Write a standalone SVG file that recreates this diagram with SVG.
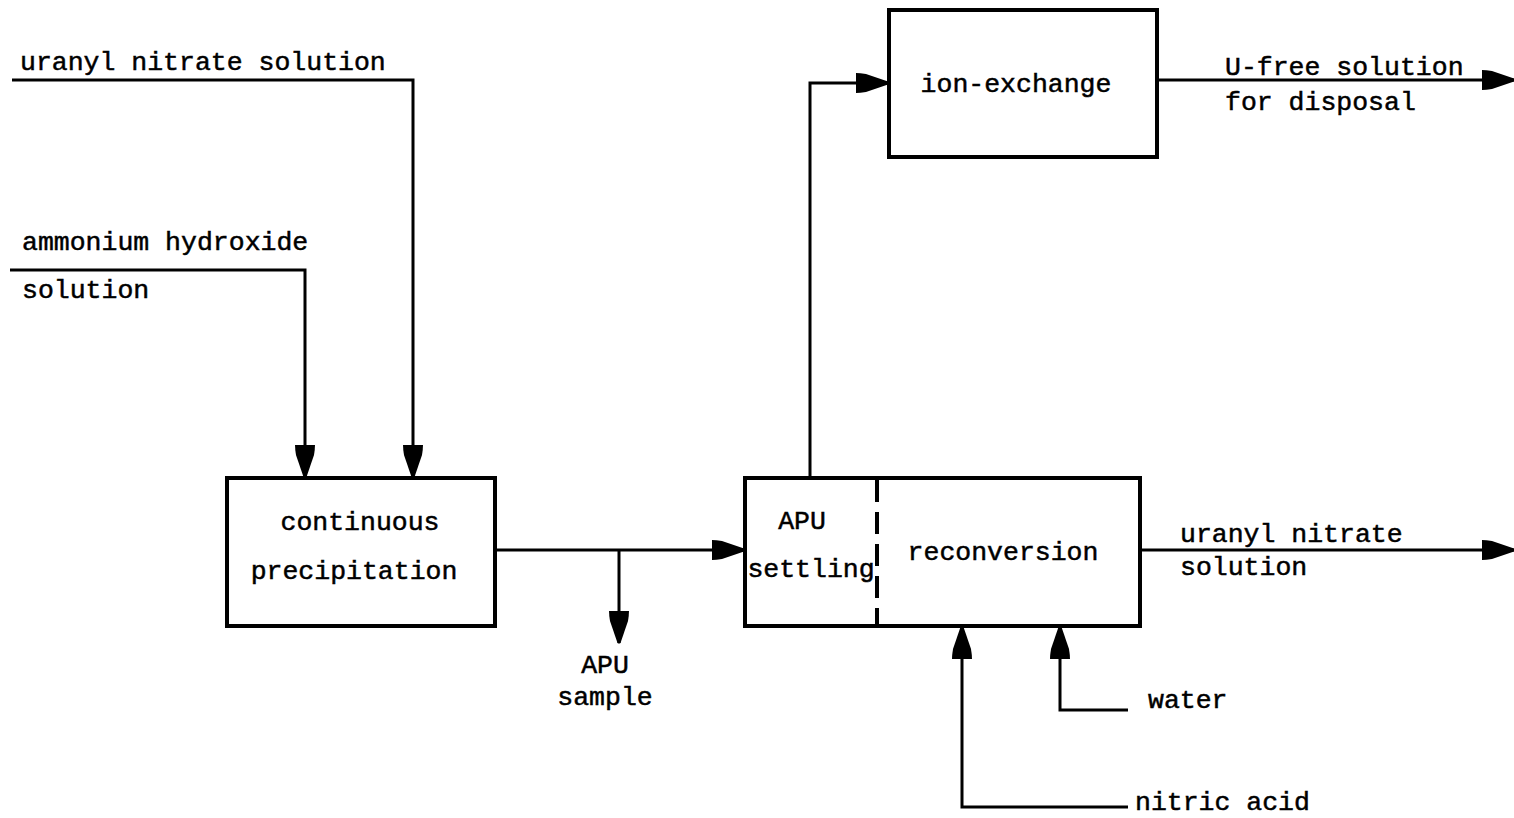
<svg xmlns="http://www.w3.org/2000/svg" width="1514" height="818" viewBox="0 0 1514 818">
<style>
.box{fill:#fff;stroke:#000;stroke-width:4}
.ln{fill:none;stroke:#000;stroke-width:3}
text{font-family:"Liberation Mono","DejaVu Sans Mono",monospace;font-size:26.5px;fill:#000;stroke:#000;stroke-width:0.5}
.c{text-anchor:middle}
</style>
<defs>
<marker id="ah" markerUnits="userSpaceOnUse" markerWidth="34" markerHeight="24" viewBox="0 -12 34 24" refX="32" refY="0" orient="auto">
<path d="M0,-10 Q4,-10 10,-9 L32,-1.5 Q33,0 32,1.5 L10,9 Q4,10 0,10 Z" fill="#000"/>
</marker>
</defs>
<g id="connectors">
<path class="ln" d="M12,80 H413 V477" marker-end="url(#ah)"/>
<path class="ln" d="M10,270 H305 V477" marker-end="url(#ah)"/>
<path class="ln" d="M495,550 H744" marker-end="url(#ah)"/>
<path class="ln" d="M619,550 V643" marker-end="url(#ah)"/>
<path class="ln" d="M810,478 V83 H888" marker-end="url(#ah)"/>
<path class="ln" d="M1157,80 H1514" marker-end="url(#ah)"/>
<path class="ln" d="M1140,550 H1514" marker-end="url(#ah)"/>
<path class="ln" d="M1128,710 H1060 V627" marker-end="url(#ah)"/>
<path class="ln" d="M1128,807 H962 V627" marker-end="url(#ah)"/>
</g>
<g id="labels">
<text x="20" y="70">uranyl nitrate solution</text>
<text x="22" y="250">ammonium hydroxide</text>
<text x="22" y="298">solution</text>
<text x="605" y="673" class="c">APU</text>
<text x="605" y="705" class="c">sample</text>
<text x="1225" y="75">U-free solution</text>
<text x="1225" y="110">for disposal</text>
<text x="1180" y="542">uranyl nitrate</text>
<text x="1180" y="575">solution</text>
<text x="1148" y="708">water</text>
<text x="1135" y="810">nitric acid</text>
</g>
<g id="precipitation">
<rect class="box" x="227" y="478" width="268" height="148"/>
<text x="360" y="530" class="c">continuous</text>
<text x="354" y="579" class="c">precipitation</text>
</g>
<g id="settling-reconversion">
<rect class="box" x="745" y="478" width="395" height="148"/>
<line x1="877" y1="480" x2="877" y2="624" stroke="#000" stroke-width="4" stroke-dasharray="22,10"/>
<text x="802" y="529" class="c">APU</text>
<text x="811" y="577" class="c">settling</text>
<text x="1003" y="560" class="c">reconversion</text>
</g>
<g id="ion-exchange">
<rect class="box" x="889" y="10" width="268" height="147"/>
<text x="1016" y="92" class="c">ion-exchange</text>
</g>
</svg>
